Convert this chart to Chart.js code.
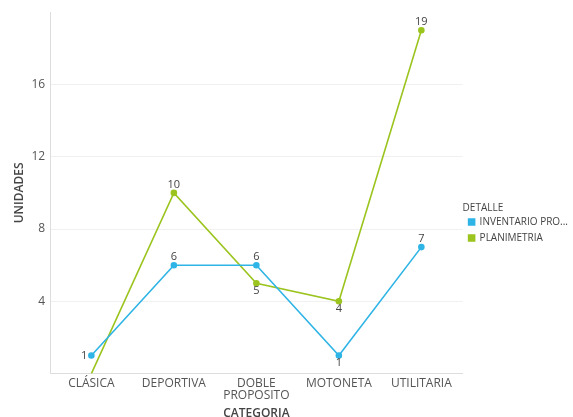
<!DOCTYPE html>
<html>
<head>
<meta charset="utf-8">
<script src="https://cdn.jsdelivr.net/npm/chart.js@4/dist/chart.umd.min.js"></script>
<style>
  html, body { margin: 0; padding: 0; background: #fff; }
  #wrap { width: 573px; height: 417px; }
</style>
</head>
<body>
<div id="wrap"><canvas id="chart"></canvas></div>
<script>
const categories = ['CLÁSICA', 'DEPORTIVA', ['DOBLE', 'PROPOSITO'], 'MOTONETA', 'UTILITARIA'];
const inventario = [1, 6, 6, 1, 7];
const planimetria = [0, 10, 5, 4, 19];
const yTicks = [4, 8, 12, 16];

const BLUE = '#2fb4e6';
const GREEN = '#9bc41f';
const FONT = "'Open Sans', 'Noto Sans', sans-serif";

// where each value label sits relative to its point
const labelPlacement = [
    ['left', 'top', 'top', 'bottom', 'top'],
    ['none', 'top', 'bottom', 'bottom', 'top']
];

const valueLabels = {
    id: 'valueLabels',
    afterDatasetsDraw(chart) {
        const ctx = chart.ctx;
        ctx.save();
        ctx.font = '11px ' + FONT;
        ctx.fillStyle = '#444';
        chart.data.datasets.forEach((ds, i) => {
            chart.getDatasetMeta(i).data.forEach((pt, j) => {
                const where = labelPlacement[i][j];
                if (where === 'none') return;
                const text = String(ds.data[j]);
                if (where === 'left') {
                    ctx.textAlign = 'right';
                    ctx.textBaseline = 'middle';
                    ctx.fillText(text, pt.x - 4, pt.y);
                } else if (where === 'top') {
                    ctx.textAlign = 'center';
                    ctx.textBaseline = 'bottom';
                    ctx.fillText(text, pt.x, pt.y - 3);
                } else {
                    ctx.textAlign = 'center';
                    ctx.textBaseline = 'top';
                    ctx.fillText(text, pt.x, pt.y + 2);
                }
            });
        });
        ctx.restore();
    }
};

new Chart(document.getElementById('chart'), {
    type: 'line',
    data: {
        labels: categories,
        datasets: [
            {
                label: 'INVENTARIO PRO...',
                data: inventario,
                borderColor: BLUE,
                backgroundColor: BLUE,
                borderWidth: 1.6,
                pointRadius: 2.5,
                pointHoverRadius: 2.5
            },
            {
                label: 'PLANIMETRIA',
                data: planimetria,
                borderColor: GREEN,
                backgroundColor: GREEN,
                borderWidth: 1.6,
                pointRadius: [0, 2.5, 2.5, 2.5, 2.5],
                pointHoverRadius: 2.5
            }
        ]
    },
    options: {
        responsive: true,
        maintainAspectRatio: false,
        animation: false,
        events: [],
        layout: { padding: { top: 7, right: -5, bottom: -4, left: 12 } },
        plugins: {
            tooltip: { enabled: false },
            legend: {
                position: 'right',
                align: 'center',
                title: {
                    display: true,
                    text: 'DETALLE',
                    color: '#444',
                    position: 'start',
                    font: { family: FONT, size: 10 },
                    padding: { top: 24, bottom: -4 }
                },
                labels: {
                    boxWidth: 6,
                    boxHeight: 6,
                    padding: 6,
                    color: '#444',
                    font: { family: FONT, size: 10 }
                }
            }
        },
        scales: {
            x: {
                offset: true,
                grid: { display: false, drawTicks: false },
                border: { display: true, color: '#ddd' },
                ticks: {
                    color: '#555',
                    font: { family: FONT, size: 12, lineHeight: 1.0 },
                    maxRotation: 0,
                    autoSkip: false,
                    padding: 4
                },
                title: {
                    display: true,
                    text: 'CATEGORIA',
                    color: '#444',
                    font: { family: FONT, size: 12, weight: 600 },
                    padding: { top: 1, bottom: 0 }
                }
            },
            y: {
                min: 0,
                max: 20,
                afterBuildTicks(axis) {
                    axis.ticks = yTicks.map(v => ({ value: v }));
                },
                grid: { color: '#f0f0f0', drawTicks: false },
                border: { display: true, color: '#ddd' },
                ticks: {
                    color: '#555',
                    font: { family: FONT, size: 12 },
                    padding: 5
                },
                title: {
                    display: true,
                    text: 'UNIDADES',
                    color: '#444',
                    font: { family: FONT, size: 12, weight: 600 },
                    padding: { top: 0, bottom: 0 }
                }
            }
        }
    },
    plugins: [valueLabels]
});
</script>
</body>
</html>
